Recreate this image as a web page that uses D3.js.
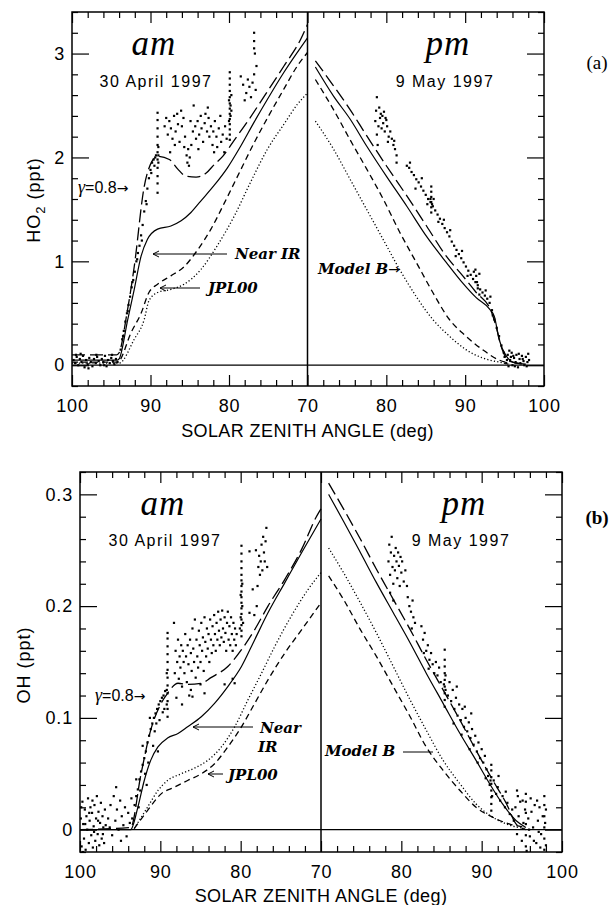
<!DOCTYPE html>
<html>
<head>
<meta charset="utf-8">
<script src="https://cdn.jsdelivr.net/npm/d3@7"></script>
<style>
  body { margin: 0; background: #fff; }
  svg { display: block; }
  .tick text { font-family: "Liberation Sans", Arial, sans-serif; font-size: 18px; letter-spacing: 0.8px; }
</style>
</head>
<body>
<div id="chart"></div>
<script>
// ---------- data (solar zenith angle in deg, mixing ratio in ppt) ----------
const ho2TickLabels = ["0", "1", "2", "3"];
const ohTickLabels = ["0", "0.1", "0.2", "0.3"];
const szaLabelsAm = [100, 90, 80, 70];
const szaLabelsPm = [80, 90, 100];

// panel (a) HO2, morning
const ho2AmGamma = [[100,0.10],[94.3,0.10],[94.0,0.12],[93.0,0.50],[92.07,0.95],[90.8,1.72],[89.9,1.95],[89.1,2.01],[87.6,1.98],[86.55,1.89],[85.5,1.82],[84.2,1.81],[82.9,1.85],[81.9,1.93],[80.8,2.01],[79.3,2.17],[77.6,2.35],[75.5,2.59],[73.0,2.88],[70.85,3.14],[70,3.28]];
const ho2AmNearIR = [[100,0.05],[94.2,0.05],[94.0,0.06],[92.9,0.44],[92.07,0.73],[91.2,1.05],[90.4,1.21],[89.1,1.31],[87.4,1.34],[86.1,1.39],[84.85,1.47],[83.6,1.58],[81.9,1.73],[80.2,1.90],[78.5,2.11],[76.8,2.34],[75.1,2.56],[73.0,2.82],[70.85,3.06],[70,3.15]];
const ho2AmJpl00 = [[100,0.03],[94.2,0.03],[94.0,0.04],[92.5,0.31],[91.2,0.50],[90.2,0.70],[89.1,0.78],[87.4,0.86],[85.7,0.95],[84.0,1.11],[82.3,1.31],[80.6,1.56],[78.9,1.82],[76.8,2.14],[75.1,2.38],[73.0,2.66],[71.3,2.88],[70,3.01]];
const ho2AmModelB = [[100,0.02],[94.2,0.02],[94.0,0.02],[92.07,0.25],[90.8,0.44],[90.2,0.62],[89.1,0.70],[87.4,0.73],[85.7,0.78],[83.6,0.92],[81.5,1.15],[79.3,1.44],[77.2,1.77],[75.1,2.08],[73.0,2.32],[71.3,2.51],[70,2.62]];
const ho2AmObs = [
  [99.8,0.05],[99.6,0.02],[99.4,0.08],[99.2,0.00],[99.0,0.06],[98.8,0.03],[98.6,0.09],[98.4,-0.02],[98.2,0.05],[98.0,0.01],[97.8,0.07],[97.6,0.03],[97.4,-0.01],[97.2,0.06],[97.0,0.02],[96.8,0.08],[96.6,0.04],[96.4,0.00],[96.2,0.06],[96.0,0.03],[95.8,0.09],[95.6,-0.01],[95.4,0.05],[95.2,0.02],[95.0,0.07],[94.8,0.04],[94.6,0.01],[94.4,0.06],[94.2,0.03],[99.5,0.10],[98.9,0.11],[97.9,-0.03],[96.9,0.10],[95.9,0.00],[94.9,0.10],
  [93.8,0.15],[93.6,0.25],[93.4,0.33],[93.2,0.42],[93.0,0.50],[92.8,0.58],[92.6,0.66],[92.4,0.75],[92.2,0.82],[92.0,0.90],[91.8,1.00],[91.6,1.08],[91.4,1.15],[91.2,1.25],[91.0,1.35],[90.8,1.48],[90.6,1.58],[90.4,1.70],[90.2,1.80],[90.0,1.88],[89.8,1.95],[89.6,1.98],[89.5,1.92],[89.4,2.00],[89.3,2.02],[93.5,0.28],[92.9,0.52],[92.3,0.80],[91.7,1.02],[91.1,1.20],[90.5,1.55],[89.9,1.85],
  [89.1,1.66],[89.1,1.75],[89.1,1.82],[89.1,1.90],[89.1,1.98],[89.1,2.05],[89.1,2.12],[89.1,2.20],[89.1,2.28],[89.1,2.36],[89.1,2.43],[89.0,1.95],[89.0,2.02],[89.0,2.10],
  [88.2,2.30],[88.0,2.38],[87.8,2.22],[87.6,2.35],[87.4,2.28],[87.2,2.18],[87.0,2.40],[86.8,2.25],[86.6,2.42],[86.5,2.32],[86.3,2.15],[86.1,2.45],[86.0,2.30],[85.8,2.38],[85.7,2.10],[85.6,2.20],[85.4,2.02],[85.3,1.95],[85.2,2.08],[85.1,1.92],[85.0,2.00],[84.8,2.12],[84.6,2.25],[84.5,2.50],[84.3,2.30],[84.2,2.18],[84.0,2.35],[83.8,2.22],[83.6,2.40],[83.5,2.28],[83.3,2.15],[83.1,2.33],[83.0,2.42],[82.8,2.25],[82.6,2.38],[82.5,2.20],[82.3,2.30],[82.1,2.12],[82.0,2.25],[81.8,2.35],[81.6,2.20],[81.5,2.10],[81.3,2.28],[81.1,2.40],[81.0,2.15],[80.8,2.22],[80.6,2.05],[80.5,2.30],[80.3,2.18],[87.5,2.05],[86.9,2.12],[84.9,2.35],[83.9,2.08],[82.7,2.48],[81.9,2.05],
  [79.9,2.17],[79.9,2.22],[79.9,2.27],[79.9,2.32],[79.9,2.37],[79.9,2.42],[79.9,2.47],[79.9,2.52],[79.9,2.58],[79.9,2.64],[79.9,2.70],[79.9,2.76],[79.9,2.82],[79.8,2.40],[79.8,2.50],[80.0,2.35],[80.0,2.55],[79.7,2.45],[79.7,2.60],
  [78.2,2.70],[78.0,2.55],[77.8,2.62],[77.6,2.75],[77.4,2.68],[77.2,2.58],[77.0,2.72],[76.8,2.80],[76.6,2.65],[76.8,3.05],[76.8,3.12],[76.8,3.20],[76.7,3.00],[76.5,2.88],[78.5,2.78]
];

// panel (a) HO2, evening
const ho2PmGamma = [[71.0,2.93],[73.3,2.69],[75.4,2.46],[77.5,2.21],[80.0,1.92],[82.6,1.63],[85.1,1.34],[87.6,1.05],[89.7,0.86],[91.4,0.70],[93.3,0.52],[93.9,0.38],[94.7,0.15],[95.6,0.04],[97.7,0.01]];
const ho2PmNearIR = [[71.0,2.87],[73.3,2.59],[75.4,2.37],[77.5,2.11],[80.0,1.82],[82.6,1.53],[85.1,1.24],[87.6,0.99],[89.7,0.79],[91.4,0.65],[93.1,0.54],[93.7,0.47],[94.3,0.25],[95.2,0.09],[96.4,0.02],[97.7,0.01]];
const ho2PmJpl00 = [[71.0,2.75],[73.3,2.46],[75.4,2.17],[77.5,1.89],[79.6,1.60],[81.7,1.28],[83.8,0.99],[85.9,0.70],[88.0,0.44],[90.1,0.28],[92.2,0.15],[94.3,0.05],[95.6,0.02]];
const ho2PmModelB = [[71.0,2.35],[73.3,2.08],[75.4,1.79],[77.5,1.50],[79.6,1.21],[81.7,0.92],[83.8,0.66],[85.9,0.44],[88.0,0.28],[90.1,0.15],[92.2,0.07],[94.3,0.03],[95.6,0.01]];
const ho2PmObs = [
  [78.6,2.35],[78.7,2.45],[78.8,2.58],[78.8,2.22],[78.9,2.12],[79.0,2.30],[79.2,2.38],[79.3,2.42],[79.5,2.40],[79.7,2.44],[79.9,2.38],[80.0,2.36],[80.1,2.30],[80.3,2.20],[80.5,2.25],[80.7,2.18],[80.9,2.12],[81.1,2.08],[81.3,2.02],[79.4,2.28],[79.8,2.25],[80.2,2.15],[81.0,2.16],[79.1,2.48],[79.6,2.33],[81.3,1.95],
  [82.6,1.92],[82.9,1.90],[83.2,1.86],[83.5,1.83],[83.8,1.79],[84.1,1.76],[84.4,1.72],[84.7,1.68],[85.0,1.64],[85.3,1.60],[85.6,1.57],[85.9,1.53],[86.2,1.49],[86.5,1.45],[86.8,1.41],[87.1,1.36],[87.4,1.32],[87.7,1.28],[88.0,1.24],[88.3,1.19],[88.6,1.15],[88.9,1.11],[89.2,1.07],[89.5,1.03],[89.8,0.99],[90.1,0.95],[90.4,0.91],[90.7,0.87],[91.0,0.83],[91.3,0.80],[91.6,0.77],[91.9,0.73],[92.2,0.70],[92.5,0.67],[92.8,0.64],[93.1,0.60],[93.4,0.53],[93.7,0.44],[94.0,0.36],[94.3,0.28],[94.6,0.19],[94.9,0.12],
  [83.0,1.95],[83.7,1.70],[84.5,1.80],[85.2,1.55],[86.0,1.60],[86.6,1.38],[87.3,1.40],[88.1,1.30],[88.8,1.05],[89.6,1.10],[90.3,0.86],[91.1,0.90],[91.8,0.68],[92.6,0.72],[93.2,0.66],[93.5,0.48],
  [85.7,1.47],[85.7,1.52],[85.7,1.57],[85.7,1.62],[85.7,1.67],[85.7,1.72],[85.8,1.55],[85.6,1.60],
  [91.3,0.92],[91.4,0.86],[91.5,0.80],[91.6,0.74],[91.8,0.88],
  [95.0,0.08],[95.2,0.02],[95.4,0.10],[95.5,-0.01],[95.7,0.05],[95.9,0.12],[96.0,0.00],[96.2,0.07],[96.4,0.03],[96.5,0.10],[96.7,-0.02],[96.9,0.06],[97.0,0.02],[97.2,0.09],[97.4,0.04],[97.5,0.00],[97.7,0.08],[97.9,0.03],[98.0,0.11],[98.1,0.05],[95.3,0.05],[95.8,0.08],[96.3,-0.01],[96.8,0.11],[97.3,0.06],[97.8,-0.01],[95.6,0.14],[96.1,0.09]
];

// panel (b) OH, morning
const ohAmGamma = [[100,0],[93.7,0.002],[92.4,0.050],[91.2,0.089],[89.9,0.113],[89.1,0.122],[87.8,0.131],[86.6,0.130],[84.9,0.131],[83.7,0.136],[81.6,0.146],[79.9,0.161],[78.25,0.179],[76.6,0.200],[74.5,0.224],[72.4,0.251],[70.5,0.281],[70,0.287]];
const ohAmNearIR = [[100,0],[93.7,0],[92.8,0.020],[92.0,0.044],[91.2,0.062],[90.3,0.074],[89.1,0.082],[87.8,0.086],[86.6,0.092],[84.9,0.101],[83.25,0.113],[81.6,0.128],[79.9,0.146],[78.25,0.170],[76.6,0.194],[74.5,0.221],[72.4,0.248],[70,0.278]];
const ohAmJpl00 = [[93.25,0.001],[91.6,0.017],[89.9,0.032],[88.25,0.038],[86.6,0.044],[84.9,0.050],[83.25,0.059],[81.6,0.074],[79.9,0.092],[78.25,0.113],[76.6,0.134],[74.5,0.158],[72.4,0.179],[70,0.203]];
const ohAmModelB = [[93.25,0.001],[91.6,0.020],[90.3,0.035],[89.1,0.044],[87.4,0.050],[85.75,0.055],[84.1,0.062],[82.4,0.074],[80.75,0.092],[79.1,0.116],[77.4,0.140],[75.75,0.164],[73.7,0.191],[71.6,0.215],[70,0.230]];
const ohAmObs = [
  [99.9,0.010],[99.8,-0.015],[99.7,0.025],[99.6,0.005],[99.5,-0.008],[99.4,0.018],[99.3,-0.018],[99.2,0.012],[99.1,0.000],[99.0,0.028],[98.9,-0.012],[98.8,0.008],[98.7,0.020],[98.6,-0.005],[98.5,0.015],[98.4,-0.016],[98.3,0.003],[98.2,0.022],[98.1,-0.010],[98.0,0.010],[97.9,0.030],[97.8,-0.004],[97.7,0.016],[97.6,-0.014],[97.5,0.006],[97.4,0.024],[97.3,-0.008],[97.2,0.012],[97.1,0.002],[97.0,-0.012],[96.9,0.018],[96.8,0.004],[99.85,0.020],[99.35,0.005],[98.85,0.015],[98.25,-0.002],[97.75,0.008],[97.15,-0.004],[99.65,-0.020],[98.45,0.026],
  [96.5,0.010],[96.2,0.022],[96.0,-0.005],[95.8,0.030],[95.6,0.008],[95.4,0.018],[95.2,0.000],[95.0,0.026],[94.8,0.012],[94.6,0.004],[94.4,0.020],[94.2,-0.006],[94.0,0.015],[93.8,0.006],[95.5,0.038],[94.9,-0.010],[96.3,0.002],
  [93.5,0.010],[93.2,0.022],[93.0,0.030],[92.8,0.036],[92.6,0.045],[92.4,0.052],[92.2,0.058],[92.0,0.064],[91.8,0.070],[91.6,0.078],[91.4,0.084],[91.2,0.090],[91.0,0.095],[90.8,0.100],[90.6,0.104],[90.4,0.108],[90.2,0.112],[90.0,0.115],[89.8,0.118],[89.6,0.120],[89.4,0.124],
  [93.0,0.045],[92.5,0.035],[92.2,0.075],[91.9,0.050],[91.5,0.060],[91.3,0.100],[90.9,0.075],[90.7,0.088],[90.5,0.095],[90.1,0.098],[89.7,0.105],[93.6,0.028],[92.7,0.020],[91.7,0.040],[90.3,0.070],[89.5,0.108],
  [89.1,0.101],[89.1,0.108],[89.1,0.115],[89.1,0.122],[89.1,0.129],[89.1,0.136],[89.1,0.143],[89.1,0.150],[89.1,0.157],[89.1,0.164],[89.1,0.171],[89.1,0.176],[89.2,0.112],[89.2,0.125],[89.2,0.140],
  [88.3,0.185],[88.2,0.140],[88.1,0.160],[88.0,0.118],[87.9,0.150],[87.8,0.170],[87.7,0.135],[87.6,0.155],[87.5,0.145],[87.4,0.165],[87.3,0.128],[87.2,0.160],[87.1,0.150],[87.0,0.140],[86.9,0.175],[86.8,0.155],[86.7,0.132],[86.6,0.165],[86.5,0.148],[86.4,0.120],[86.3,0.170],[86.2,0.158],[86.1,0.142],[86.0,0.180],[85.9,0.162],[85.8,0.150],[85.7,0.188],[85.6,0.136],[85.5,0.170],[85.4,0.155],[85.3,0.145],[85.2,0.178],[85.1,0.165],[85.0,0.150],[84.9,0.185],[84.8,0.160],[84.7,0.172],[84.6,0.142],[84.5,0.190],[84.4,0.168],[84.3,0.155],[84.2,0.180],[84.1,0.162],[84.0,0.175],[83.9,0.150],[83.8,0.188],[83.7,0.170],[83.6,0.158],[83.5,0.182],[83.4,0.165],[83.3,0.192],[83.2,0.175],[83.1,0.160],[83.0,0.185],[82.9,0.170],[82.8,0.195],[82.7,0.178],[82.6,0.165],[82.5,0.188],[82.4,0.172],[82.3,0.196],[82.2,0.180],[82.1,0.168],[82.0,0.190],[81.9,0.176],[81.8,0.160],[81.7,0.185],[81.6,0.195],[81.5,0.170],[81.4,0.182],[81.3,0.165],[81.2,0.190],[81.1,0.175],[81.0,0.160],[80.9,0.185],[80.8,0.170],[80.7,0.180],[80.6,0.165],[80.5,0.175],[87.3,0.112],[86.2,0.125],[85.0,0.130],[82.0,0.130],[81.0,0.135],[86.0,0.119],[84.5,0.122],[80.75,0.131],
  [79.9,0.173],[79.9,0.178],[79.9,0.183],[79.9,0.188],[79.9,0.193],[79.9,0.198],[79.9,0.203],[79.9,0.208],[79.9,0.213],[79.9,0.218],[79.9,0.223],[79.9,0.228],[79.9,0.234],[79.9,0.240],[79.9,0.247],[79.9,0.254],[80.0,0.190],[80.0,0.210],[79.8,0.200],[79.8,0.220],[80.1,0.180],[79.7,0.185],
  [78.1,0.250],[78.0,0.200],[77.8,0.235],[77.7,0.245],[77.6,0.228],[77.5,0.240],[77.4,0.255],[77.3,0.232],[77.2,0.262],[77.1,0.248],[77.0,0.240],[76.9,0.258],[76.8,0.270],[76.7,0.235],[78.3,0.192],[78.5,0.215],[77.9,0.218],[78.9,0.249],[78.9,0.194]
];

// panel (b) OH, evening
const ohPmGamma = [[70.95,0.310],[72.8,0.287],[74.9,0.260],[76.9,0.233],[79.0,0.206],[81.1,0.179],[83.1,0.152],[85.2,0.125],[87.3,0.098],[89.3,0.071],[91.4,0.044],[93.1,0.023],[94.3,0.005],[95.5,0.0]];
const ohPmNearIR = [[70.95,0.300],[72.8,0.276],[74.9,0.248],[76.9,0.221],[79.0,0.194],[81.1,0.167],[83.1,0.140],[85.2,0.113],[87.3,0.086],[89.3,0.062],[91.0,0.041],[92.6,0.023],[94.3,0.008],[95.5,0.002]];
const ohPmJpl00 = [[70.95,0.227],[72.8,0.206],[74.9,0.179],[76.9,0.155],[79.0,0.128],[81.1,0.101],[83.1,0.074],[85.2,0.053],[87.3,0.035],[89.3,0.020],[91.4,0.011],[93.5,0.005],[95.5,0.002]];
const ohPmModelB = [[70.95,0.252],[72.8,0.230],[74.9,0.203],[76.9,0.176],[79.0,0.146],[81.1,0.116],[83.1,0.089],[85.2,0.062],[87.3,0.041],[89.3,0.023],[91.4,0.011],[93.5,0.004],[95.5,0.001]];
const ohPmObs = [
  [78.4,0.240],[78.5,0.255],[78.6,0.228],[78.7,0.248],[78.8,0.262],[78.9,0.235],[79.0,0.220],[79.1,0.245],[79.2,0.232],[79.3,0.252],[79.4,0.240],[79.5,0.225],[79.6,0.248],[79.7,0.236],[79.8,0.218],[79.9,0.244],[80.0,0.230],[80.1,0.240],[80.3,0.222],[80.5,0.232],[78.6,0.212],[79.0,0.205],[80.7,0.218],
  [80.8,0.208],[81.0,0.200],[81.2,0.195],[81.4,0.205],[81.5,0.190],[81.7,0.185],[81.3,0.180],
  [82.5,0.182],[82.7,0.170],[82.9,0.176],[83.1,0.160],[83.3,0.165],[83.5,0.152],[83.7,0.158],[83.9,0.148],[84.1,0.140],[84.3,0.150],[84.5,0.138],[84.7,0.145],[84.9,0.132],[82.8,0.158],[83.4,0.144],
  [85.4,0.110],[85.4,0.116],[85.4,0.122],[85.4,0.128],[85.4,0.134],[85.4,0.140],[85.4,0.146],[85.4,0.152],[85.4,0.161],[85.5,0.125],[85.5,0.138],[85.3,0.130],
  [85.8,0.120],[86.0,0.132],[86.2,0.115],[86.4,0.125],[86.6,0.108],[86.8,0.118],[87.0,0.102],[87.2,0.112],[87.4,0.098],[87.6,0.108],[87.8,0.092],[88.0,0.100],[88.2,0.088],[88.4,0.096],[88.6,0.082],[88.8,0.090],[89.0,0.076],[89.2,0.084],[89.4,0.070],[89.6,0.078],[89.8,0.064],[90.0,0.072],[90.2,0.060],[90.4,0.066],[90.6,0.054],[86.5,0.095],[87.5,0.085],[88.5,0.072],[89.5,0.060],[90.5,0.046],[86.9,0.128],[87.9,0.110],[88.7,0.104],
  [91.2,0.017],[91.2,0.023],[91.2,0.029],[91.2,0.035],[91.2,0.041],[91.2,0.047],[91.2,0.053],[91.2,0.058],[91.3,0.030],[91.1,0.044],
  [90.8,0.048],[91.0,0.040],[91.5,0.044],[91.8,0.032],[92.0,0.038],[92.3,0.026],[92.6,0.030],[92.9,0.020],[93.2,0.024],[93.5,0.014],[93.8,0.018],[92.1,0.048],[93.0,0.034],
  [94.0,0.008],[94.2,0.020],[94.4,-0.004],[94.6,0.012],[94.8,0.025],[95.0,-0.010],[95.2,0.006],[95.4,0.018],[95.5,-0.015],[95.5,-0.005],[95.5,0.005],[95.5,0.015],[95.5,0.025],[95.5,0.032],[95.6,-0.019],[95.8,0.010],[96.0,-0.006],[96.2,0.016],[96.4,0.002],[96.6,0.022],[96.8,-0.012],[97.0,0.008],[97.2,0.020],[97.4,-0.004],[97.6,0.012],[97.8,-0.018],[97.8,-0.008],[97.8,0.002],[97.8,0.012],[97.8,0.022],[97.8,0.030],[97.9,0.006],[98.0,0.018],[98.0,-0.014],[94.5,0.030],[95.1,0.026],[96.1,0.028],[96.9,0.026],[97.3,-0.016],[96.5,-0.010],[95.9,0.000],[97.1,-0.002],[94.4,0.035]
];

// ---------- drawing ----------
const W = 612, H = 905;
const svg = d3.select("#chart").append("svg")
  .attr("width", W).attr("height", H)
  .attr("viewBox", `0 0 ${W} ${H}`)
  .style("background", "#fff");

const sans = '"Liberation Sans", Arial, sans-serif';
const serif = '"Liberation Serif", "Times New Roman", serif';
const cmBold = '"DejaVu Serif", serif';
const arrowFont = '"DejaVu Sans", sans-serif';

// line style per model curve
const styles = {
  gamma:  { dash: "13,5", w: 1.3 },
  nearIR: { dash: null,   w: 1.2 },
  jpl00:  { dash: "6,4",  w: 1.3 },
  modelB: { dash: "1.2,2.2", w: 1.3 }
};

function range(a, b, step) {
  return d3.range(a, b + step / 2, step).map(v => +v.toFixed(4));
}

function drawPanel(p) {
  const g = svg.append("g");
  const xAm = d3.scaleLinear().domain([100, 70]).range([p.left, p.mid]);
  const xPm = d3.scaleLinear().domain([70, 100]).range([p.mid, p.right]);
  const y = d3.scaleLinear().domain(p.yDomain).range([p.bottom, p.top]);

  const clipId = "clip-" + p.id;
  g.append("clipPath").attr("id", clipId)
    .append("rect")
    .attr("x", p.left).attr("y", p.top)
    .attr("width", p.right - p.left).attr("height", p.bottom - p.top);

  const plot = g.append("g").attr("clip-path", `url(#${clipId})`);

  // zero line
  plot.append("line")
    .attr("x1", p.left).attr("x2", p.right)
    .attr("y1", y(0)).attr("y2", y(0))
    .attr("stroke", "#000").attr("stroke-width", 1.2);

  // observations
  [[p.amObs, xAm], [p.pmObs, xPm]].forEach(([obs, x]) => {
    plot.append("g").selectAll("rect")
      .data(obs)
      .join("rect")
      .attr("x", d => x(d[0]) - 1.1)
      .attr("y", d => y(d[1]) - 1.1)
      .attr("width", 2.2).attr("height", 2.2)
      .attr("fill", "#000");
  });

  // model curves
  [[p.am, xAm], [p.pm, xPm]].forEach(([set, x]) => {
    const line = d3.line()
      .x(d => x(d[0]))
      .y(d => y(d[1]))
      .curve(d3.curveMonotoneX);
    Object.keys(set).forEach(k => {
      plot.append("path")
        .datum(set[k])
        .attr("d", line)
        .attr("fill", "none")
        .attr("stroke", "#000")
        .attr("stroke-width", styles[k].w)
        .attr("stroke-dasharray", styles[k].dash);
    });
  });

  // axes (ticks point inward)
  const styleAxis = sel => {
    sel.select(".domain").remove();
    sel.selectAll(".tick line").attr("stroke", "#000").attr("stroke-width", 1.2);
  };
  const yMinor = p.yMinor.filter(v => !p.yMajor.includes(v));
  const xMinor = range(72, 98, 2).filter(v => v % 10 !== 0);

  g.append("g").attr("transform", `translate(${p.left},0)`)
    .call(d3.axisLeft(y).tickValues(p.yMajor).tickSize(-17).tickPadding(7)
      .tickFormat((d, i) => p.yLabels[i]))
    .call(styleAxis);
  g.append("g").attr("transform", `translate(${p.left},0)`)
    .call(d3.axisLeft(y).tickValues(yMinor).tickSize(-6).tickFormat(""))
    .call(styleAxis);
  g.append("g").attr("transform", `translate(${p.right},0)`)
    .call(d3.axisRight(y).tickValues(p.yMajor).tickSize(-17).tickFormat(""))
    .call(styleAxis);
  g.append("g").attr("transform", `translate(${p.right},0)`)
    .call(d3.axisRight(y).tickValues(yMinor).tickSize(-6).tickFormat(""))
    .call(styleAxis);

  [[xAm, szaLabelsAm], [xPm, szaLabelsPm]].forEach(([x, labels]) => {
    g.append("g").attr("transform", `translate(0,${p.bottom})`)
      .call(d3.axisBottom(x).tickValues(labels).tickSize(-11).tickPadding(13))
      .call(styleAxis);
    g.append("g").attr("transform", `translate(0,${p.bottom})`)
      .call(d3.axisBottom(x).tickValues(xMinor).tickSize(-6).tickFormat(""))
      .call(styleAxis);
    g.append("g").attr("transform", `translate(0,${p.top})`)
      .call(d3.axisTop(x).tickValues(labels).tickSize(-11).tickFormat(""))
      .call(styleAxis);
    g.append("g").attr("transform", `translate(0,${p.top})`)
      .call(d3.axisTop(x).tickValues(xMinor).tickSize(-6).tickFormat(""))
      .call(styleAxis);
  });

  // frame and am/pm divider
  g.append("rect")
    .attr("x", p.left).attr("y", p.top)
    .attr("width", p.right - p.left).attr("height", p.bottom - p.top)
    .attr("fill", "none").attr("stroke", "#000").attr("stroke-width", 1.5);
  g.append("line")
    .attr("x1", p.mid).attr("x2", p.mid)
    .attr("y1", p.top).attr("y2", p.bottom)
    .attr("stroke", "#000").attr("stroke-width", 1.5);

  // axis titles
  const yt = g.append("text")
    .attr("transform", `translate(${p.yTitleX},${p.yTitleY}) rotate(-90)`)
    .attr("text-anchor", "middle")
    .style("font-family", sans).style("font-size", "18px").style("letter-spacing", "1px");
  p.yTitle(yt);
  g.append("text")
    .attr("x", p.mid).attr("y", p.xTitleY)
    .attr("text-anchor", "middle")
    .style("font-family", sans).style("font-size", "18px").style("letter-spacing", "0.4px")
    .text("SOLAR ZENITH ANGLE (deg)");

  // am / pm headings
  const heading = (txt, cx, yy) => g.append("text")
    .attr("x", cx).attr("y", yy).attr("text-anchor", "middle")
    .style("font-family", serif).style("font-style", "italic")
    .style("font-size", "35px").style("letter-spacing", "1px").text(txt);
  const date = (txt, cx, yy) => g.append("text")
    .attr("x", cx).attr("y", yy).attr("text-anchor", "middle")
    .style("font-family", sans).style("font-size", "16px").style("letter-spacing", "1.5px")
    .text(txt);
  heading("am", p.amX, p.headY);
  date("30 April 1997", p.amX + 2, p.dateY);
  heading("pm", p.pmX, p.headY);
  date("9 May 1997", p.pmX - 3, p.dateY);

  g.append("text")
    .attr("x", 597).attr("y", p.tagY).attr("text-anchor", "middle")
    .style("font-family", serif).style("font-size", "19px")
    .style("font-weight", p.tagBold ? "bold" : "normal")
    .text(p.tag);

  return g;
}

function gammaLabel(g, x, yy) {
  const t = g.append("text").attr("x", x).attr("y", yy)
    .style("font-family", sans).style("font-size", "16px");
  t.append("tspan").style("font-family", serif).style("font-style", "italic")
    .style("font-size", "18px").text("γ");
  t.append("tspan").text("=0.8");
  t.append("tspan").style("font-family", arrowFont).style("font-size", "14px").text("→");
}

function modelText(g, txt, x, yy, withArrow) {
  const t = g.append("text").attr("x", x).attr("y", yy)
    .style("font-family", cmBold).style("font-style", "italic")
    .style("font-weight", "bold").style("font-size", "15px")
    .text(txt);
  if (withArrow) {
    t.append("tspan").style("font-family", arrowFont).style("font-style", "normal")
      .style("font-weight", "normal").style("font-size", "14px").text("→");
  }
}

function arrow(g, x1, x2, yy, head) {
  g.append("line").attr("x1", x1).attr("x2", x2).attr("y1", yy).attr("y2", yy)
    .attr("stroke", "#000").attr("stroke-width", 1);
  if (head) {
    g.append("path")
      .attr("d", `M${x2 + 6},${yy - 3}L${x2},${yy}L${x2 + 6},${yy + 3}`)
      .attr("fill", "none").attr("stroke", "#000").attr("stroke-width", 1);
  }
}

// ---------- panel (a): HO2 ----------
const ga = drawPanel({
  id: "a", left: 72, mid: 307.5, right: 544, top: 12, bottom: 386,
  yDomain: [-0.2, 3.4], yMajor: [0, 1, 2, 3], yMinor: range(-0.2, 3.4, 0.2),
  yLabels: ho2TickLabels,
  am: { gamma: ho2AmGamma, nearIR: ho2AmNearIR, jpl00: ho2AmJpl00, modelB: ho2AmModelB },
  pm: { gamma: ho2PmGamma, nearIR: ho2PmNearIR, jpl00: ho2PmJpl00, modelB: ho2PmModelB },
  amObs: ho2AmObs, pmObs: ho2PmObs,
  yTitleX: 40, yTitleY: 200,
  yTitle: t => {
    t.append("tspan").text("HO");
    t.append("tspan").attr("dy", 5).style("font-size", "13px").text("2");
    t.append("tspan").attr("dy", -5).text(" (ppt)");
  },
  xTitleY: 437, amX: 154, pmX: 448, headY: 55, dateY: 87,
  tag: "(a)", tagY: 69, tagBold: false
});
gammaLabel(ga, 78, 193);
modelText(ga, "Near IR", 235, 259);
arrow(ga, 227, 153, 254, true);
modelText(ga, "JPL00", 208, 293);
arrow(ga, 200, 160, 288, true);
modelText(ga, "Model B", 318, 274, true);

// ---------- panel (b): OH ----------
const gb = drawPanel({
  id: "b", left: 80, mid: 321, right: 562, top: 472, bottom: 852,
  yDomain: [-0.02, 0.32], yMajor: [0, 0.1, 0.2, 0.3], yMinor: range(-0.02, 0.32, 0.02),
  yLabels: ohTickLabels,
  am: { gamma: ohAmGamma, nearIR: ohAmNearIR, jpl00: ohAmJpl00, modelB: ohAmModelB },
  pm: { gamma: ohPmGamma, nearIR: ohPmNearIR, jpl00: ohPmJpl00, modelB: ohPmModelB },
  amObs: ohAmObs, pmObs: ohPmObs,
  yTitleX: 30, yTitleY: 665,
  yTitle: t => t.text("OH (ppt)"),
  xTitleY: 902, amX: 163, pmX: 464, headY: 515, dateY: 546,
  tag: "(b)", tagY: 524, tagBold: true
});
gammaLabel(gb, 95, 701);
modelText(gb, "Near", 260, 733);
modelText(gb, "IR", 258, 752);
arrow(gb, 253, 193, 727, true);
modelText(gb, "JPL00", 228, 780);
arrow(gb, 223, 208, 774, true);
modelText(gb, "Model B", 325, 756);
arrow(gb, 403, 433, 752, false);
</script>
</body>
</html>
